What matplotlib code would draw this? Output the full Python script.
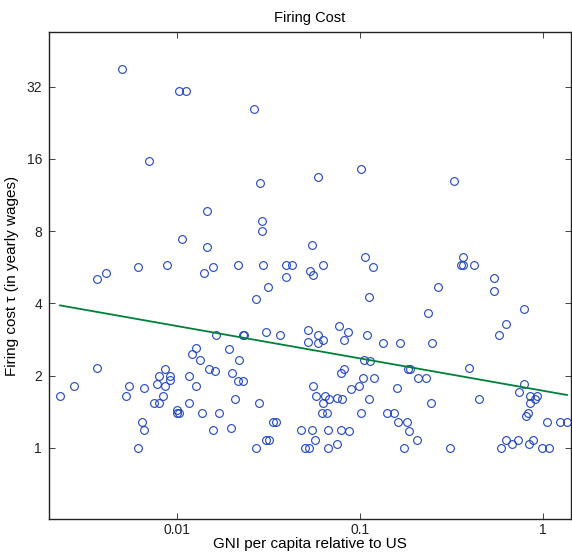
import numpy as np
import matplotlib
matplotlib.use('Agg')
import matplotlib.pyplot as plt
from matplotlib.ticker import FixedLocator, NullLocator

plt.rcParams['font.family'] = ['Liberation Sans', 'DejaVu Sans']

# GNI per capita relative to US (x) and firing cost in yearly wages (y)
gni = [0.00502, 0.01025, 0.0112, 0.0264, 0.00706, 0.0594, 0.0284, 0.1016, 0.329, 0.0146,
       0.0292, 0.0292, 0.0107, 0.0547, 0.0146, 0.1074, 0.3667, 0.00411, 0.00615, 0.00889,
       0.0141, 0.0157, 0.0217, 0.0296, 0.0394, 0.0429, 0.0537, 0.0394, 0.0557, 0.00367,
       0.0630, 0.1178, 0.359, 0.3667, 0.4227, 0.540, 0.0314, 0.0271, 0.544, 0.268,
       0.1128, 0.787, 0.237, 0.630, 0.575,
       0.0023, 0.00275, 0.00367, 0.00526, 0.00549, 0.00663, 0.00617, 0.00641, 0.00663, 0.00752,
       0.0080, 0.00778, 0.0080, 0.00845, 0.00867, 0.00867, 0.00916, 0.00916, 0.0100, 0.0100,
       0.01025, 0.01164, 0.01164, 0.01213, 0.0128, 0.0128, 0.01346, 0.0137, 0.01507, 0.01573,
       0.01625, 0.0164, 0.0171, 0.01923, 0.01982, 0.02005, 0.02083, 0.02163, 0.02188, 0.02294,
       0.02333, 0.02312, 0.0271, 0.02825, 0.0309, 0.0309, 0.0319, 0.0336, 0.0349, 0.0366,
       0.0478, 0.0501, 0.0526, 0.0521, 0.0520, 0.0547, 0.0557, 0.0579, 0.0570, 0.0589,
       0.0594, 0.0620, 0.0630,
       0.0628, 0.0774, 0.0863, 0.0818, 0.1097, 0.1340, 0.1667, 0.2484, 0.1057, 0.1138,
       0.1829, 0.1891, 0.3944, 0.0821, 0.0787, 0.1047, 0.1202, 0.2075, 0.2296, 0.0995,
       0.0893, 0.1604, 0.7925, 0.7391, 0.0646, 0.0748, 0.0682, 0.0800, 0.1128, 0.2443,
       0.4487, 0.8492, 0.9311, 0.912, 0.8526, 0.0662, 0.1016, 0.1405, 0.1546, 0.1619,
       0.1812, 0.8075, 0.834, 1.052, 1.247, 1.358, 0.0671, 0.0787, 0.0874, 0.1866,
       0.2057, 0.0748, 0.0668, 0.1739, 0.3113, 0.5893, 0.628, 0.6823, 0.7357, 0.842,
       0.8892, 0.9911, 1.079]
firing_cost = [37.9, 30.6, 30.6, 25.8, 15.6, 13.4, 12.65, 14.5, 12.9, 9.67,
               8.78, 7.98, 7.39, 6.97, 6.84, 6.21, 6.21, 5.33, 5.64, 5.75,
               5.33, 5.64, 5.75, 5.75, 5.75, 5.75, 5.45, 5.13, 5.23, 5.03,
               5.75, 5.64, 5.75, 5.75, 5.75, 5.08, 4.66, 4.15, 4.48, 4.66,
               4.23, 3.77, 3.63, 3.29, 2.94,
               1.65, 1.81, 2.16, 1.65, 1.81, 1.78, 1.00, 1.28, 1.19, 1.53,
               1.53, 1.85, 2.00, 1.65, 2.12, 1.81, 2.00, 1.92, 1.44, 1.39,
               1.39, 2.00, 1.53, 2.47, 2.61, 1.81, 2.33, 1.39, 2.12, 1.19,
               2.08, 2.94, 1.39, 2.57, 1.21, 2.04, 1.59, 1.89, 2.33, 2.94,
               2.94, 1.89, 1.00, 1.53, 3.05, 1.08, 1.08, 1.28, 1.28, 2.94,
               1.19, 1.00, 1.00, 3.11, 2.77, 1.19, 1.81, 1.65, 1.08, 2.94,
               2.72, 1.39, 1.53,
               2.82, 3.23, 3.05, 2.82, 2.94, 2.72, 2.72, 2.72, 2.33, 2.29,
               2.12, 2.12, 2.16, 2.12, 2.04, 1.96, 1.96, 1.96, 1.96, 1.81,
               1.75, 1.78, 1.85, 1.71, 1.65, 1.62, 1.59, 1.59, 1.59, 1.53,
               1.59, 1.65, 1.65, 1.59, 1.53, 1.39, 1.39, 1.39, 1.39, 1.28,
               1.28, 1.36, 1.39, 1.28, 1.28, 1.28, 1.19, 1.19, 1.17, 1.17,
               1.08, 1.04, 1.00, 1.00, 1.00, 1.00, 1.08, 1.04, 1.08, 1.04,
               1.08, 1.00, 1.00]

# fitted line (end points)
fit_x = [0.0023, 1.358]
fit_y = [3.92, 1.66]

xticks = [0.01, 0.1, 1]
xticklabels = ['0.01', '0.1', '1']
yticks = [1, 2, 4, 8, 16, 32]
yticklabels = ['1', '2', '4', '8', '16', '32']

fig = plt.figure(figsize=(5.72, 5.55), dpi=100)
ax = fig.add_axes([49 / 572, 36 / 555, 522 / 572, 487 / 555])

ax.plot(gni, firing_cost, 'o', mfc='none', mec='#1f45c0', ms=5.6, mew=0.8)
ax.plot(fit_x, fit_y, '-', color='#00803a', lw=1.3)

ax.set_xscale('log')
ax.set_yscale('log', base=2)
ax.set_xlim(0.002, 1.43)
ax.set_ylim(0.505, 54)

ax.xaxis.set_major_locator(FixedLocator(xticks))
ax.set_xticklabels(xticklabels)
ax.xaxis.set_minor_locator(NullLocator())
ax.yaxis.set_major_locator(FixedLocator(yticks))
ax.set_yticklabels(yticklabels)
ax.yaxis.set_minor_locator(NullLocator())

ax.tick_params(direction='in', length=4, width=0.6, top=True, right=True,
               labelsize=10, colors='#222222', pad=5)
ax.tick_params(axis='x', pad=3)
for s in ax.spines.values():
    s.set_linewidth(1.0)
    s.set_color('#222222')

ax.set_title('Firing Cost', fontsize=10.5, pad=7)
ax.set_xlabel('GNI per capita relative to US', fontsize=11, labelpad=0)
ax.set_ylabel('Firing cost τ (in yearly wages)', fontsize=11, labelpad=5)

fig.savefig('out.png', dpi=100)
